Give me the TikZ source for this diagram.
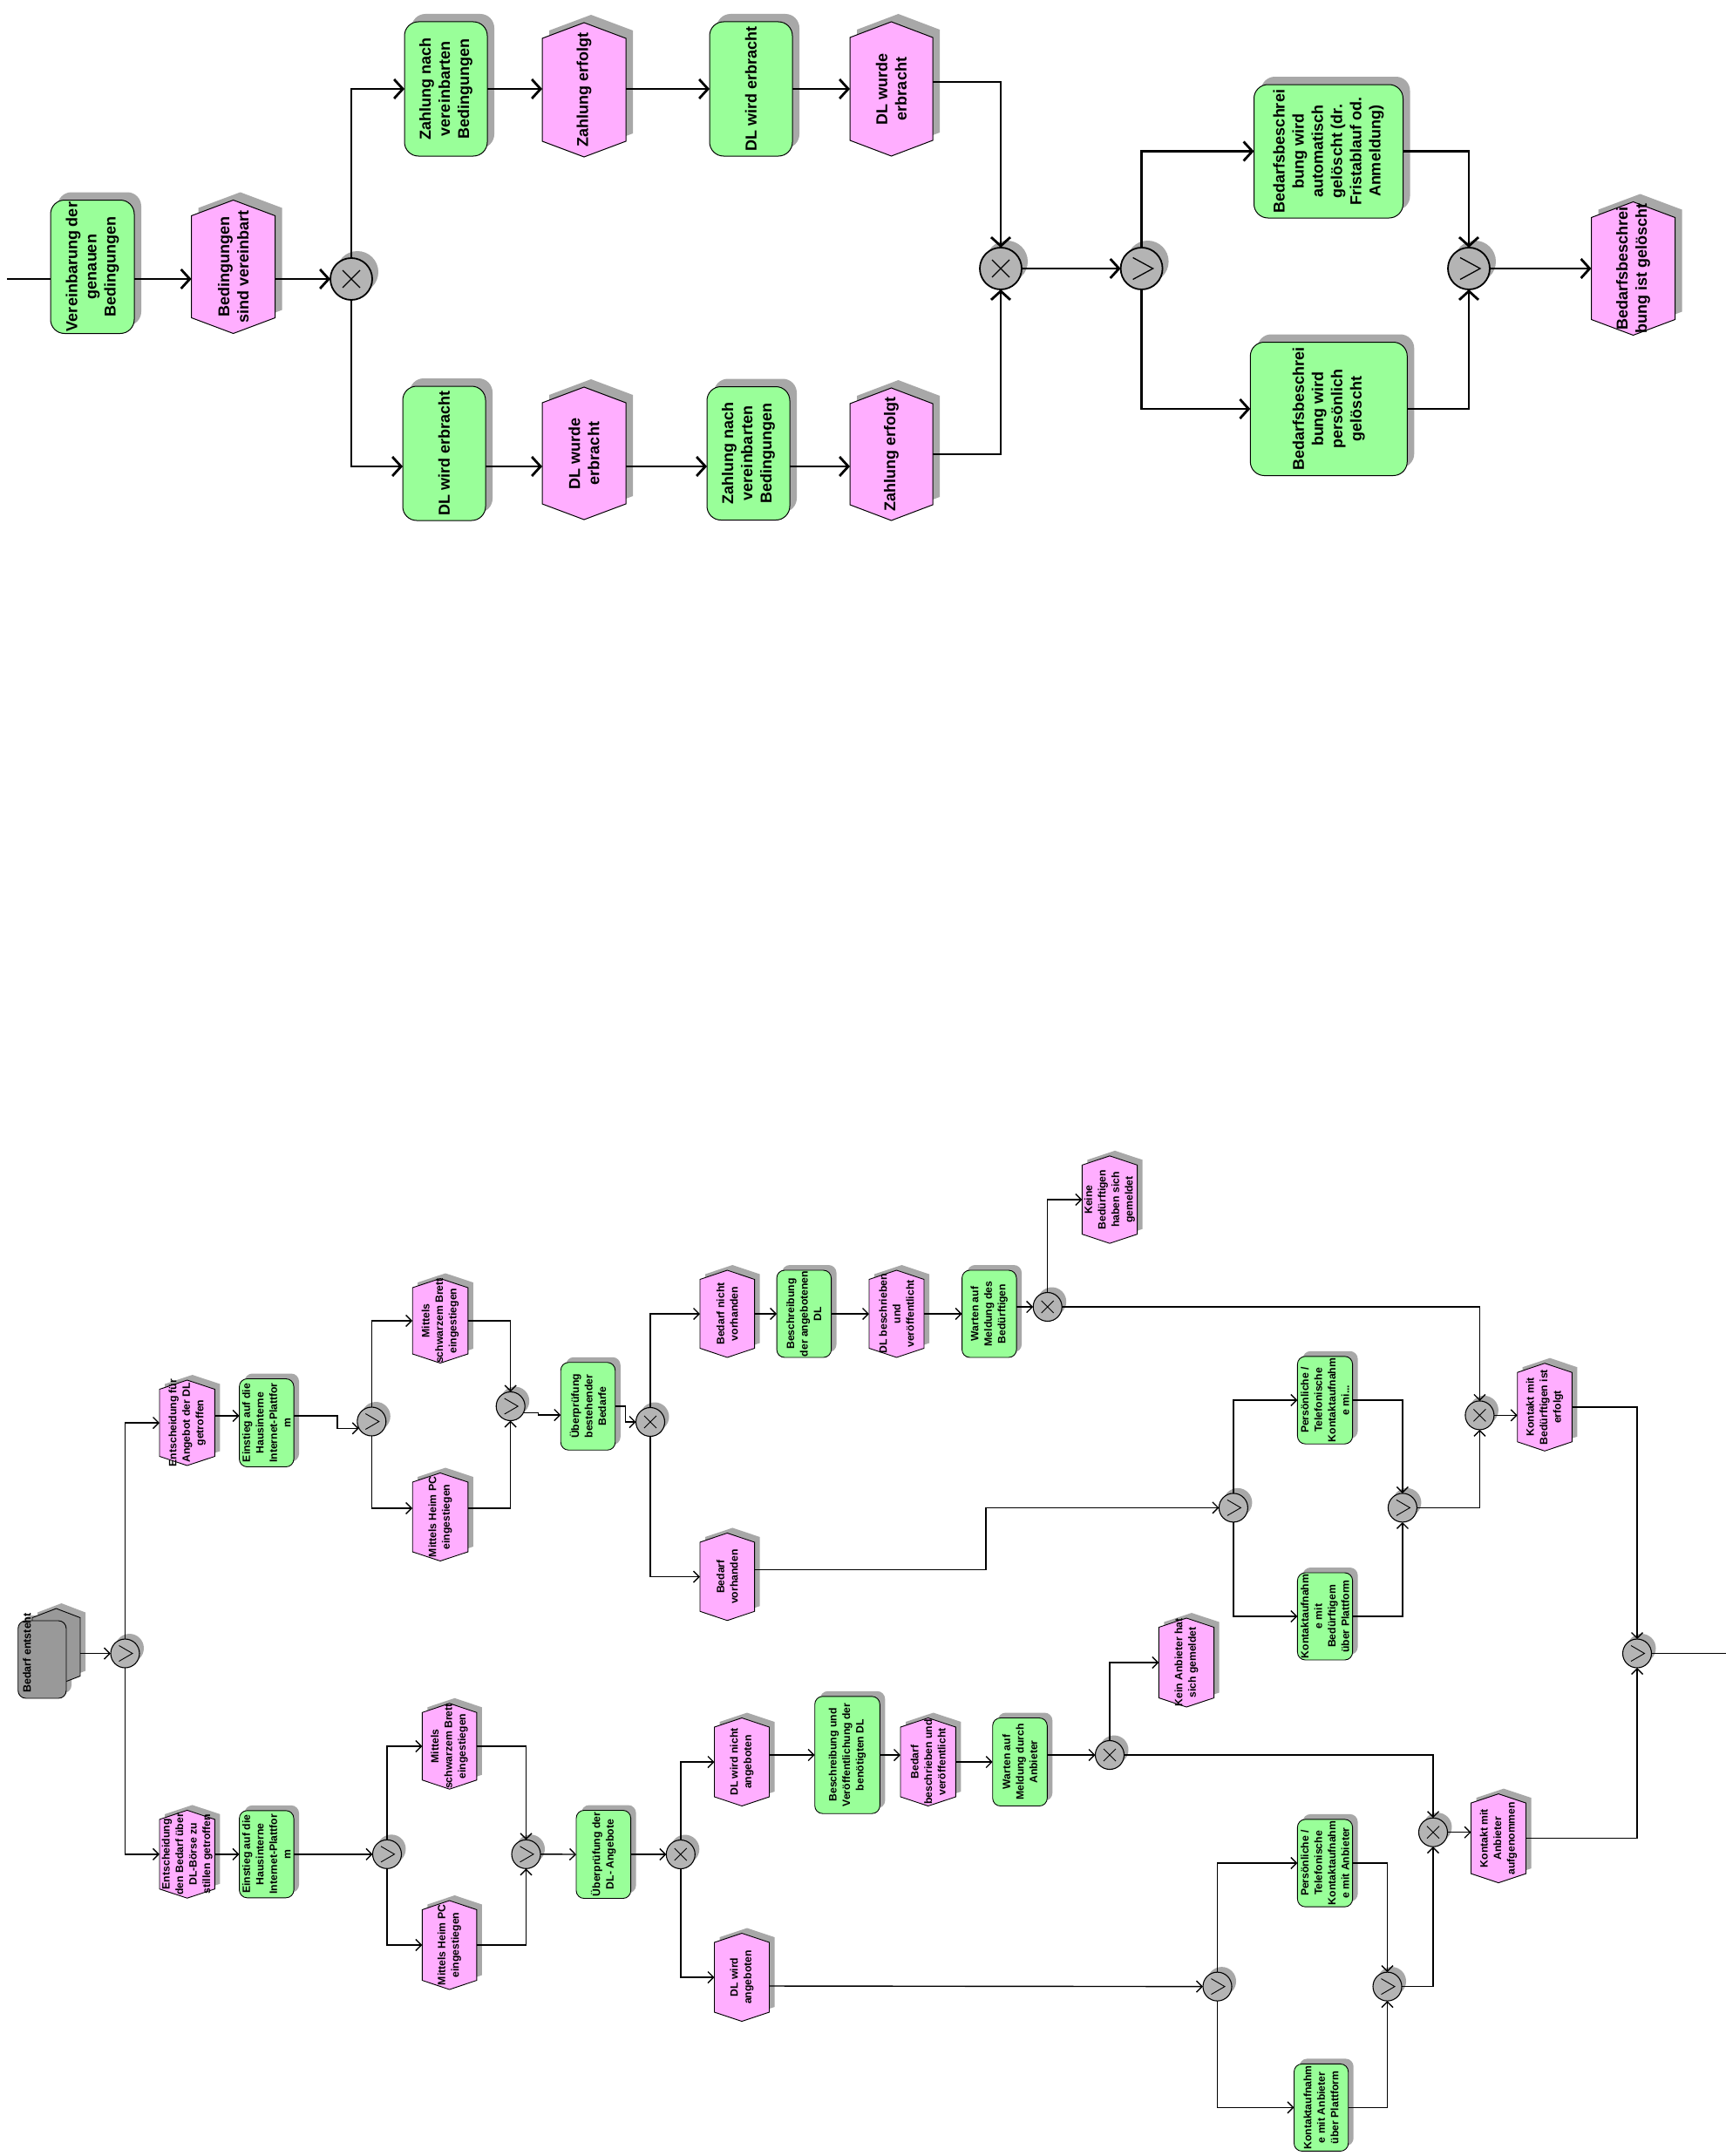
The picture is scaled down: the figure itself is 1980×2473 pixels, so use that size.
\documentclass[tikz,border=0pt]{standalone}
\usepackage{fontspec}
\setmainfont{Liberation Sans}
\usetikzlibrary{arrows.meta,calc}
\definecolor{fngreen}{RGB}{153,255,153}
\definecolor{evpink}{RGB}{255,174,255}
\definecolor{shadowc}{RGB}{168,168,168}
\definecolor{gatec}{RGB}{180,180,180}
\definecolor{startc}{RGB}{153,153,153}

\newcommand\hexpath[4]{({#1},{#2-(#4)/2}) -- ({#1+(#3)/2},{#2-(#4)/2+\myhcut}) -- ({#1+(#3)/2},{#2+(#4)/2-\myhcut}) -- ({#1},{#2+(#4)/2}) -- ({#1-(#3)/2},{#2+(#4)/2-\myhcut}) -- ({#1-(#3)/2},{#2-(#4)/2+\myhcut}) -- cycle}

\newcommand\EPCev[7][]{%
  \fill[shadowc,shift={(\mysdx,\mysdy)}] \hexpath{#3}{#4}{#5}{#6};
  \path[fill=evpink,draw=black,line width=\myslw] \hexpath{#3}{#4}{#5}{#6};
  \node[anchorbox,minimum width=#5pt,minimum height=#6pt] (#2) at (#3,#4) {};
  \node[lbl,#1] at (#2.center) {#7};
}
\newcommand\EPCfn[7][]{%
  \fill[shadowc,shift={(\mysdx,\mysdy)},rounded corners=\myrc] ({#3-(#5)/2},{#4-(#6)/2}) rectangle ({#3+(#5)/2},{#4+(#6)/2});
  \path[fill=fngreen,draw=black,line width=\myslw,rounded corners=\myrc] ({#3-(#5)/2},{#4-(#6)/2}) rectangle ({#3+(#5)/2},{#4+(#6)/2});
  \node[anchorbox,minimum width=#5pt,minimum height=#6pt] (#2) at (#3,#4) {};
  \node[lbl,#1] at (#2.center) {#7};
}
\newcommand\EPCgatebase[3]{%
  \fill[shadowc] ({#2+\mygsx},{#3+\mygsy}) circle[radius=\mygr];
  \node[circle,fill=gatec,draw=black,line width=\myglw,minimum size=2*\mygr,inner sep=0pt,outer sep=0pt] (#1) at (#2,#3) {};
}
\newcommand\EPCxor[3]{\EPCgatebase{#1}{#2}{#3}%
  \draw[line width=\mysymlw] ({#2-\myxs},{#3-\myxs}) -- ({#2+\myxs},{#3+\myxs}) ({#2-\myxs},{#3+\myxs}) -- ({#2+\myxs},{#3-\myxs});}
\newcommand\EPCor[3]{\EPCgatebase{#1}{#2}{#3}%
  \draw[line width=\mysymlw] ({#2-\myoa},{#3-\myob}) -- ({#2+\myoc},{#3}) -- ({#2-\myoa},{#3+\myob});}

\begin{document}
\begin{tikzpicture}[x=1pt,y=-1pt,
  anchorbox/.style={rectangle,inner sep=0pt,outer sep=0pt,draw=none},
  lbl/.style={rotate=90,align=center,inner sep=0pt,font=\mytxt},
  cl/.style={line width=2.8pt},
  ar/.style={cl,-{Straight Barb[length=10pt,width=22pt]}},
  scl/.style={line width=1.4pt},
  sar/.style={scl,-{Straight Barb[length=6.5pt,width=13pt]}}]
\fill[white] (0,0) rectangle (1980,2473);
\useasboundingbox (0,0) rectangle (1980,2473);

% ---------------- top section ----------------
\def\mysdx{8}\def\mysdy{-9}\def\myhcut{18}\def\myrc{16pt}\def\myslw{1pt}
\def\mygr{24pt}\def\mygsx{7}\def\mygsy{-8}\def\myglw{1.8pt}\def\mysymlw{1.3pt}
\def\myxs{10}\def\myoa{10}\def\myob{12.5}\def\myoc{13}
\def\mytxt{\bfseries\fontsize{18}{22}\selectfont}

\EPCfn{vb}{106}{306}{96}{153}{Vereinbarung der\\genauen\\Bedingungen}
\EPCev{bv}{267.6}{306}{96}{153}{Bedingungen\\sind vereinbart}
\EPCxor{x1}{403}{320}
\EPCfn{zn1}{511.5}{102}{95}{154}{Zahlung nach\\vereinbarten\\Bedingungen}
\EPCev{ze1}{670}{103}{96}{154}{Zahlung erfolgt}
\EPCfn{dw1}{861.5}{102}{95}{154}{DL wird erbracht}
\EPCev{de1}{1022.5}{102}{95}{154}{DL wurde\\erbracht}
\EPCfn{dw2}{509.5}{520}{95}{154}{DL wird erbracht}
\EPCev{de2}{670}{520}{96}{152}{DL wurde\\erbracht}
\EPCfn{zn2}{858.5}{520}{95}{153}{Zahlung nach\\vereinbarten\\Bedingungen}
\EPCev{ze2}{1022.5}{521}{95}{152}{Zahlung erfolgt}
\EPCxor{x2}{1148}{308}
\EPCor{o1}{1309.6}{308}
\EPCfn{au}{1524}{173.5}{171}{153}{Bedarfsbeschrei\\bung wird\\automatisch\\gelöscht (dr.\\Fristablauf od.\\Anmeldung)}
\EPCfn{pg}{1524.3}{469}{180}{153}{Bedarfsbeschrei\\bung wird\\persönlich\\gelöscht}
\EPCor{o2}{1685}{308}
\EPCev{bg}{1873.5}{308}{96}{153}{Bedarfsbeschrei\\bung ist gelöscht}

\coordinate (in0) at (8,320);
\draw[cl] (in0) -- ([yshift=-14pt]vb.west);
\draw[ar] ([yshift=-14pt]vb.east) -- ([yshift=-14pt]bv.west);
\draw[ar] ([yshift=-14pt]bv.east) -- (x1.west);
\draw[ar] (x1.north) |- (zn1.west);
\draw[ar] (zn1.east) -- (zn1.east -| ze1.west);
\draw[ar] (zn1.east -| ze1.east) -- (dw1.west);
\draw[ar] (dw1.east) -- (de1.west);
\draw[ar] ([yshift=8pt]de1.east) -| (x2.north);
\draw[ar] (x1.south) |- ([yshift=-15pt]dw2.west);
\draw[ar] ([yshift=-15pt]dw2.east) -- ([yshift=-15pt]de2.west);
\draw[ar] ([yshift=-15pt]de2.east) -- ([yshift=-15pt]zn2.west);
\draw[ar] ([yshift=-15pt]zn2.east) -- ([yshift=-14pt]ze2.west);
\draw[ar] (ze2.east) -| (x2.south);
\draw[ar] (x2.east) -- (o1.west);
\draw[ar] (o1.north) |- (au.west);
\draw[ar] (o1.south) |- (pg.west);
\draw[ar] (au.east) -| (o2.north);
\draw[ar] (pg.east) -| (o2.south);
\draw[ar] (o2.east) -- (bg.west);

% ---------------- bottom section ----------------
\def\mysdx{6}\def\mysdy{-6}\def\myhcut{10.5}\def\myrc{9pt}\def\myslw{0.9pt}
\def\mygr{16.5pt}\def\mygsx{5}\def\mygsy{-6}\def\myglw{1.1pt}\def\mysymlw{0.9pt}
\def\myxs{7}\def\myoa{7}\def\myob{9}\def\myoc{8.5}
\def\mytxt{\bfseries\fontsize{12.2}{15.5}\selectfont}

% start node "Bedarf entsteht"
\fill[shadowc,rounded corners=9pt] (26.7,1853) rectangle (82,1942);
\fill[shadowc,shift={(6,-6)}] \hexpath{64.5}{1889}{55}{88};
\path[fill=startc,draw=black,line width=0.9pt] \hexpath{64.5}{1889}{55}{88};
\path[fill=startc,draw=black,line width=0.9pt,rounded corners=9pt] (20.7,1859) rectangle (76,1948);
\node[anchorbox,minimum width=55pt,minimum height=88pt] (sb) at (64.5,1889) {};
\node[rotate=90,inner sep=0pt,font=\bfseries\fontsize{12.5}{15}\selectfont] (sbt) at (31,1896) {Bedarf entsteht};

\EPCor{oa}{143.5}{1896.5}
\EPCev{e1}{214.7}{1632}{63.4}{98}{Entscheidung für\\Angebot der DL\\getroffen}
\EPCfn{f1}{305.8}{1632}{62.5}{101}{Einstieg auf die\\Hausinterne\\Internet-Plattfor\\m}
\EPCor{ob}{426.3}{1630.5}
\EPCev{m1}{505}{1515}{63.6}{97}{Mittels\\schwarzem Brett\\eingestiegen}
\EPCev{m2}{505}{1740}{63.6}{101}{Mittels Heim PC\\eingestiegen}
\EPCor{oc}{585.7}{1613}
\EPCfn{ub}{674.5}{1613}{62.5}{100.5}{Überprüfung\\bestehender\\Bedarfe}
\EPCxor{xd}{746}{1631}
\EPCev{bn}{834.3}{1507}{62.6}{100}{Bedarf nicht\\vorhanden}
\EPCfn{bd}{922.3}{1507}{62.5}{100}{Beschreibung\\der angebotenen\\DL}
\EPCev{db}{1028.5}{1507}{63}{100}{DL beschrieben\\und\\veröffentlicht}
\EPCfn{wb}{1134.8}{1507}{62.5}{100}{Warten auf\\Meldung des\\Bedürftigen}
\EPCxor{xe}{1201.7}{1499}
\EPCev{kb}{1273}{1376}{63.2}{100.3}{Keine\\Bedürftigen\\haben sich\\gemeldet}
\EPCxor{xf}{1697.4}{1623.4}
\EPCev{kbe}{1772}{1614}{62.6}{100.6}{Kontakt mit\\Bedürftigen ist\\erfolgt}
\EPCor{of}{1878}{1896.5}
\EPCev{bvh}{834.3}{1808.6}{62.6}{100.3}{Bedarf\\vorhanden}
\EPCor{og}{1414.9}{1729.4}
\EPCfn{pt1}{1520}{1606}{63.2}{100.4}{Persönliche /\\Telefonische\\Kontaktaufnahm\\e mi...}
\EPCfn{kp1}{1520}{1854}{63.2}{100}{Kontaktaufnahm\\e mit\\Bedürftigem\\über Plattform}
\EPCor{oh}{1608.9}{1729.4}

\EPCev{e2}{214.7}{2126.8}{63.4}{100.8}{Entscheidung\\den Bedarf über\\DL-Börse zu\\stillen getroffen}
\EPCfn{f2}{305.8}{2126.8}{62.5}{100}{Einstieg auf die\\Hausinterne\\Internet-Plattfor\\m}
\EPCor{oi}{444}{2126.8}
\EPCev{m3}{515.6}{2003}{62.6}{98.4}{Mittels\\schwarzem Brett\\eingestiegen}
\EPCev{m4}{515.6}{2231}{62.6}{102}{Mittels Heim PC\\eingestiegen}
\EPCor{oj}{603.5}{2126.8}
\EPCfn{ua}{692.3}{2127}{62.6}{101}{Überprüfung der\\DL- Angebote}
\EPCxor{xk}{780.8}{2127}
\EPCev{dn}{851}{2021}{63}{101}{DL wird nicht\\angeboten}
\EPCfn{bvd}{972}{2013}{74.6}{134.4}{Beschreibung und\\Veröffentlichung der\\benötigten DL}
\EPCev{bbv}{1064.7}{2021}{63.4}{101}{Bedarf\\beschrieben und\\veröffentlicht}
\EPCfn{wa}{1170}{2021}{62.6}{101}{Warten auf\\Meldung durch\\Anbieter}
\EPCxor{xl}{1273}{2013}
\EPCev{ka}{1361}{1907}{63.2}{102}{Kein Anbieter hat\\sich gemeldet}
\EPCxor{xm}{1644}{2101.7}
\EPCev{kan}{1719}{2108.6}{63}{102}{Kontakt mit\\Anbieter\\aufgenommen}
\EPCev{da}{851}{2268}{63}{101}{DL wird\\angeboten}
\EPCor{on}{1396.5}{2278.6}
\EPCfn{pt2}{1520}{2137}{63.2}{100.3}{Persönliche /\\Telefonische\\Kontaktaufnahm\\e mit Anbieter}
\EPCfn{kp2}{1515.6}{2417.4}{62.2}{100}{Kontaktaufnahm\\e mit Anbieter\\über Plattform}
\EPCor{oo}{1591.5}{2278.6}

% connectors (Angebot branch)
\draw[sar] (sb.east |- oa.west) -- (oa.west);
\draw[sar] (oa.north) |- (e1.west);
\draw[sar] ([yshift=8pt]e1.east) -- ([yshift=8pt]f1.west);
\draw[sar] ([yshift=8pt]f1.east) -- ++(50,0) |- (ob.208);
\draw[sar] (ob.north) |- (m1.west);
\draw[sar] (ob.south) |- ([yshift=10pt]m2.west);
\draw[sar] (m1.east) -| (oc.north);
\draw[sar] ([yshift=10pt]m2.east) -| (oc.south);
\draw[sar] (oc.-28) -- ++(17,0) |- ([yshift=-10pt]ub.west);
\draw[sar] (ub.east) -- ++(11.5,0) |- (xd.west);
\draw[sar] (xd.north) |- (bn.west);
\draw[sar] (xd.south) |- (bvh.west);
\draw[sar] (bn.east) -- (bd.west);
\draw[sar] (bd.east) -- (db.west);
\draw[sar] (db.east) -- (wb.west);
\draw[sar] ([yshift=8pt]wb.east) -- (xe.west);
\draw[sar] (xe.north) |- (kb.west);
\draw[sar] (xe.east) -| (xf.north);
\draw[sar] (xf.east) -- (kbe.west |- xf.east);
\draw[sar] (kbe.east) -| (of.north);
\draw[sar] ([yshift=8pt]bvh.east) -- ++(265.4,0) |- (og.west);
\draw[sar] (og.north) |- (pt1.west);
\draw[sar] (og.south) |- (kp1.west);
\draw[sar] (pt1.east) -| (oh.north);
\draw[sar] (kp1.east) -| (oh.south);
\draw[sar] (oh.east) -| (xf.south);
\coordinate (exitR) at (1980,1896.5);
\draw[scl] (of.east) -- (exitR);

% connectors (Boerse branch)
\draw[sar] (oa.south) |- (e2.west);
\draw[sar] (e2.east) -- (f2.west);
\draw[sar] (f2.east) -- (oi.west);
\draw[sar] (oi.north) |- (m3.west);
\draw[sar] (oi.south) |- (m4.west);
\draw[sar] (m3.east) -| (oj.north);
\draw[sar] (m4.east) -| (oj.south);
\draw[sar] (oj.east) -- (ua.west);
\draw[sar] (ua.east) -- (xk.west);
\draw[sar] (xk.north) |- (dn.west);
\draw[sar] (xk.south) |- (da.west);
\draw[sar] ([yshift=8pt]dn.east) -- (bvd.west);
\draw[sar] (bvd.east) -- (bbv.west |- bvd.east);
\draw[sar] (bbv.east) -- (wa.west);
\draw[sar] ([yshift=8pt]wa.east) -- (xl.west);
\draw[sar] (xl.north) |- (ka.west);
\draw[sar] (xl.east) -| (xm.north);
\draw[sar] (xm.east) -- (kan.west |- xm.east);
\draw[sar] (kan.east) -| (of.south);
\draw[sar] ([yshift=-10pt]da.east) -- (on.west);
\draw[sar] (on.north) |- (pt2.west);
\draw[sar] (on.south) |- (kp2.west);
\draw[sar] (pt2.east) -| (oo.north);
\draw[sar] (kp2.east) -| (oo.south);
\draw[sar] (oo.east) -| (xm.south);
\end{tikzpicture}
\end{document}
